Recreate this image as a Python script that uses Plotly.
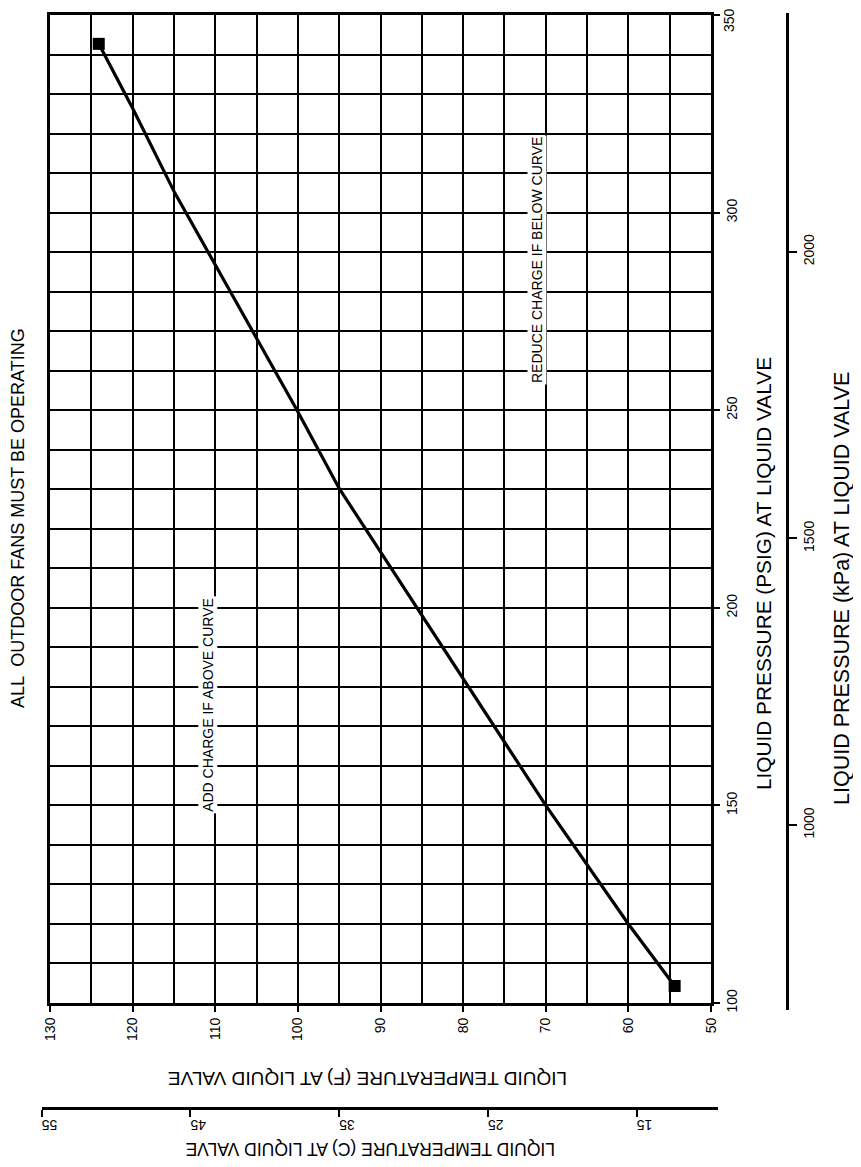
import plotly.graph_objects as go

# ---- data ----
psig = [104.3, 120, 150, 230.2, 250, 305, 326.4, 342.7]
temp_f = [54.4, 60, 70, 95, 100.1, 114.9, 120, 124.1]
temp_f_ticks = [50, 60, 70, 80, 90, 100, 110, 120, 130]
psig_ticks = [100, 150, 200, 250, 300, 350]
temp_c_ticks = [15, 25, 35, 45, 55]
kpa_ticks = [1000, 1500, 2000]

title_text = "ALL  OUTDOOR FANS MUST BE OPERATING"
psig_title = "LIQUID PRESSURE (PSIG) AT LIQUID VALVE"
kpa_title = "LIQUID PRESSURE (kPa) AT LIQUID VALVE"
tf_title = "LIQUID TEMPERATURE (F) AT LIQUID VALVE"
tc_title = "LIQUID TEMPERATURE (C) AT LIQUID VALVE"
add_text = "ADD CHARGE IF ABOVE CURVE"
reduce_text = "REDUCE CHARGE IF BELOW CURVE"

# ---- layout geometry (pixels in the 861x1167 window) ----
OFF = 8                         # default page body margin
W, H = 861 - 2 * OFF, 1167 - 2 * OFF
PL, PR, PT, PB = 40, 790, 13, 1108           # paper area (window px)
XL, XR, YT, YB = 50, 711, 15, 1003            # main plot area (window px)
FONT = "Liberation Sans, Arial, sans-serif"

def px2x(px):
    return (px - PL) / (PR - PL)

def py2y(py):
    return (PB - py) / (PB - PT)

ppf = (XR - XL) / 80.0          # pixels per degF
ppp = (YB - YT) / 250.0         # pixels per psig

def f_to_px(f):
    return XL + (130 - f) * ppf

# Celsius axis
c_lo, c_hi = 55.0, 9.5
c_left_px = f_to_px(c_lo * 9 / 5 + 32)
c_right_px = f_to_px(c_hi * 9 / 5 + 32)

# kPa axis
k_bot_py, k_top_py = 1010, 13
psig_bot = 100 + (YB - k_bot_py) / ppp
psig_top = 100 + (YB - k_top_py) / ppp
KPA = 6.895

temp_c = [(t - 32) * 5 / 9 for t in temp_f]
kpa = [p * KPA for p in psig]

# the top pressure label would overflow the page edge: it is drawn as an annotation
psig_text = [str(v) for v in psig_ticks[:-1]] + [""]

fig = go.Figure()
# invisible trace carrying the secondary (metric) axes
fig.add_trace(go.Scatter(x=temp_c, y=kpa, xaxis="x2", yaxis="y2", mode="markers",
                         marker=dict(opacity=0), hoverinfo="skip", showlegend=False))
fig.add_trace(go.Scatter(x=temp_f, y=psig, mode="lines",
                         line=dict(color="black", width=3.2),
                         hoverinfo="skip", showlegend=False))
fig.add_trace(go.Scatter(x=[temp_f[0], temp_f[-1]], y=[psig[0], psig[-1]],
                         mode="markers",
                         marker=dict(symbol="square", size=12, color="black"),
                         hoverinfo="skip", showlegend=False))

tickfont = dict(family=FONT, size=14, color="black")

fig.update_layout(
    width=W, height=H, autosize=False,
    margin=dict(l=PL - OFF, r=(861 - OFF) - PR, t=PT - OFF, b=(1167 - OFF) - PB,
                pad=0, autoexpand=False),
    paper_bgcolor="white", plot_bgcolor="rgba(0,0,0,0)",
    showlegend=False,
    xaxis=dict(
        domain=[px2x(XL), px2x(XR)], range=[130, 50], anchor="y", automargin=False,
        tickmode="array", tickvals=temp_f_ticks, ticks="outside", ticklen=6,
        tickwidth=2, tickcolor="black", tickangle=-90, tickfont=tickfont,
        ticklabeloverflow="allow",
        showgrid=True, gridcolor="black", gridwidth=2,
        minor=dict(tickmode="linear", tick0=50, dtick=5, showgrid=True,
                   gridcolor="black", gridwidth=2, ticks=""),
        showline=True, linecolor="black", linewidth=3, mirror=True,
        zeroline=False, fixedrange=True,
    ),
    yaxis=dict(
        domain=[py2y(YB), py2y(YT)], range=[100, 350], anchor="x", side="right",
        automargin=False,
        tickmode="array", tickvals=psig_ticks, ticktext=psig_text,
        ticks="outside", ticklen=6,
        tickwidth=2, tickcolor="black", tickangle=-90, tickfont=tickfont,
        ticklabeloverflow="allow",
        showgrid=True, gridcolor="black", gridwidth=2,
        minor=dict(tickmode="linear", tick0=100, dtick=10, showgrid=True,
                   gridcolor="black", gridwidth=2, ticks=""),
        showline=True, linecolor="black", linewidth=3, mirror=True,
        zeroline=False, fixedrange=True,
    ),
    xaxis2=dict(
        domain=[px2x(c_left_px), px2x(c_right_px)], range=[c_lo, c_hi],
        anchor="free", position=0, side="bottom", automargin=False,
        tickmode="array", tickvals=temp_c_ticks, ticks="outside", ticklen=7,
        tickwidth=2, tickcolor="black", tickangle=180, tickfont=tickfont,
        ticklabeloverflow="allow",
        showgrid=False, showline=True, linecolor="black", linewidth=2.5,
        zeroline=False, fixedrange=True,
    ),
    yaxis2=dict(
        domain=[py2y(k_bot_py), py2y(k_top_py)],
        range=[psig_bot * KPA, psig_top * KPA],
        anchor="free", position=px2x(787), side="right", automargin=False,
        tickmode="array", tickvals=kpa_ticks, ticks="outside", ticklen=8,
        tickwidth=2, tickcolor="black", tickangle=-90, tickfont=tickfont,
        ticklabeloverflow="allow",
        showgrid=False, showline=True, linecolor="black", linewidth=2.5,
        zeroline=False, fixedrange=True,
    ),
)

def ann(text, px, py, angle, size):
    fig.add_annotation(text=text, x=px2x(px), y=py2y(py), xref="paper", yref="paper",
                       showarrow=False, textangle=angle,
                       font=dict(family=FONT, size=size, color="black"),
                       xanchor="center", yanchor="middle")

ann(title_text, 18, 518, -90, 18)
ann(psig_title, 763, 574, -90, 20.8)
ann(kpa_title, 842, 588, -90, 21.5)
ann(tf_title, 368, 1079, 180, 19)
ann(tc_title, 370, 1149, 180, 17.5)

# top pressure tick label, nudged down to stay inside the page
fig.add_annotation(text=str(psig_ticks[-1]), x=px2x(729), xref="paper",
                   y=psig_ticks[-1], yref="y", yshift=-5, showarrow=False,
                   textangle=-90, font=tickfont, xanchor="center", yanchor="middle")

# in-plot notes placed in data coordinates
fig.add_annotation(text=add_text, x=110.9, y=175.4, xref="x", yref="y", showarrow=False,
                   textangle=-90, font=dict(family=FONT, size=14, color="black"),
                   bgcolor="white")
fig.add_annotation(text=reduce_text, x=71.06, y=288, xref="x", yref="y", showarrow=False,
                   textangle=-90, font=dict(family=FONT, size=14, color="black"),
                   bgcolor="white")

fig.write_html("out.html")
